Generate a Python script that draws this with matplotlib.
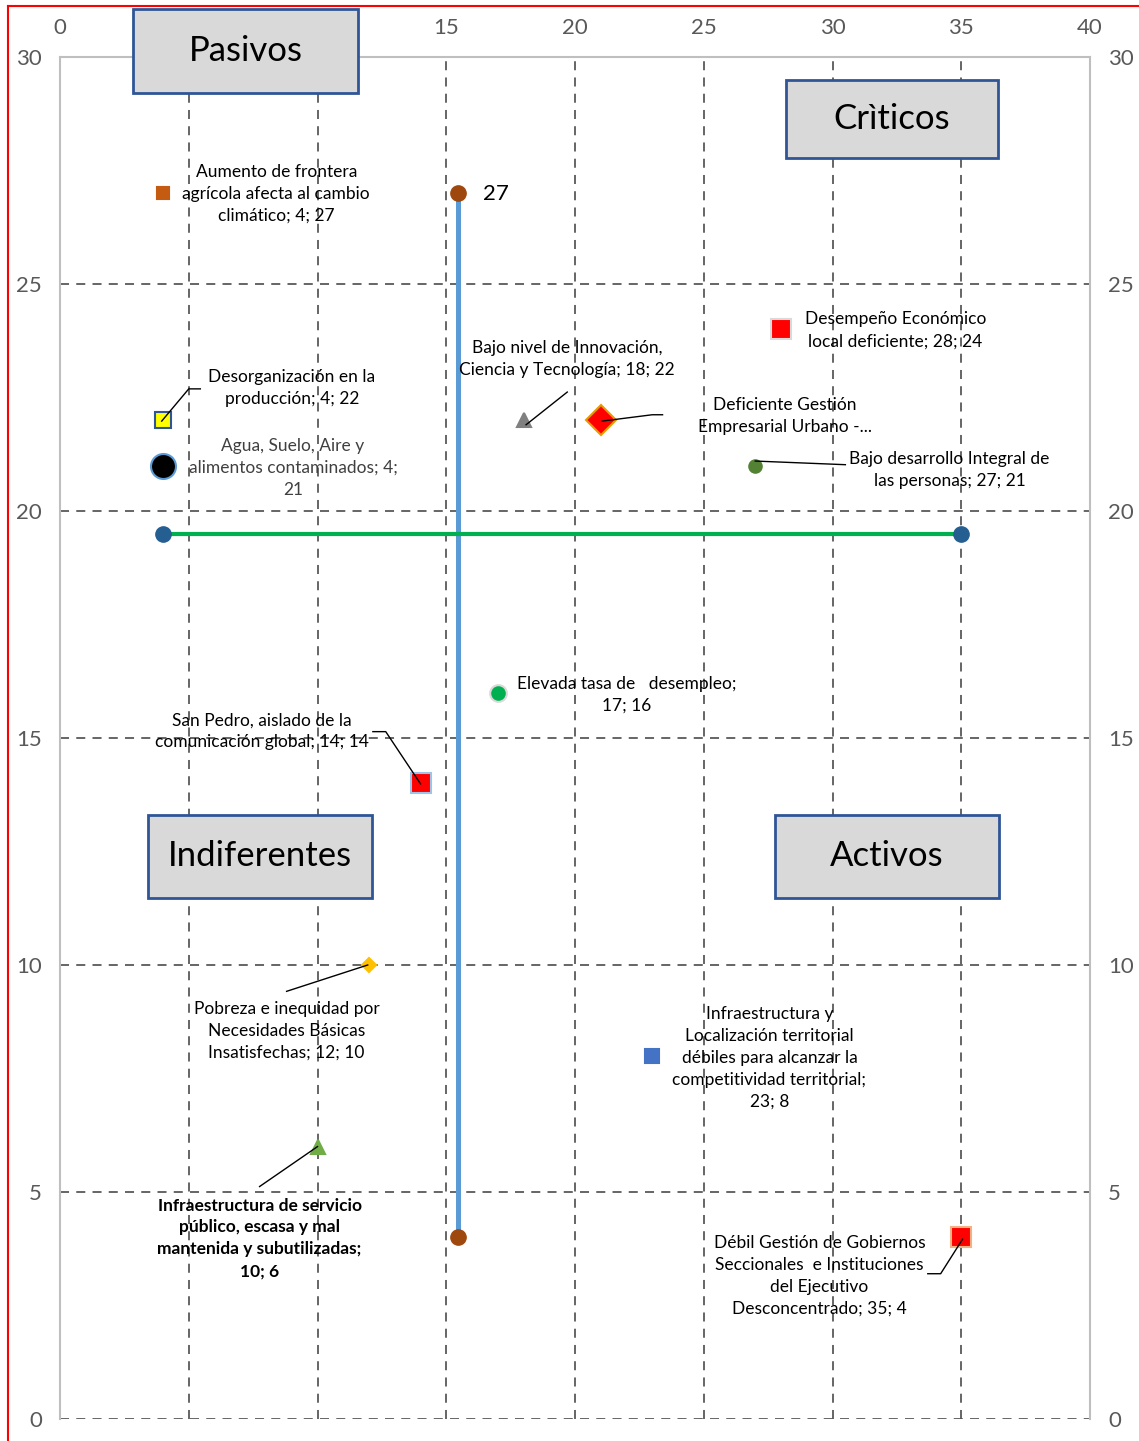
import matplotlib
matplotlib.use("Agg")
import matplotlib.pyplot as plt
from matplotlib.patches import Rectangle
from matplotlib.lines import Line2D


# factores: (nombre, influencia x, dependencia y)
names = [
    "Aumento de frontera\nagrícola afecta al cambio\nclimático; 4; 27",
    "Desorganización en la\nproducción; 4; 22",
    "Agua, Suelo, Aire y\nalimentos contaminados; 4;\n21",
    "Bajo nivel de Innovación,\nCiencia y Tecnología; 18; 22",
    "Deficiente Gestión\nEmpresarial Urbano -...",
    "Desempeño Económico\nlocal deficiente; 28; 24",
    "Bajo desarrollo Integral de\nlas personas; 27; 21",
    "Elevada tasa de   desempleo;\n17; 16",
    "San Pedro, aislado de la\ncomunicación global; 14; 14",
    "Pobreza e inequidad por\nNecesidades Básicas\nInsatisfechas; 12; 10",
    "Infraestructura y\nLocalización territorial\ndébiles para alcanzar la\ncompetitividad territorial;\n23; 8",
    "Infraestructura de servicio\npúblico, escasa y mal\nmantenida y subutilizadas;\n10; 6",
    "Débil Gestión de Gobiernos\nSeccionales  e Instituciones\ndel Ejecutivo\nDesconcentrado; 35; 4",
]
x_vals = [4, 4, 4, 18, 21, 28, 27, 17, 14, 12, 23, 10, 35]
y_vals = [27, 22, 21, 22, 22, 24, 21, 16, 14, 10, 8, 6, 4]

# estilo de cada marcador
markers = ["s", "s", "o", "^", "D", "s", "o", "o", "s", "D", "s", "^", "s"]
m_sizes = [9, 12, 18, 10, 15, 14, 9, 12, 14, 7, 10, 10, 14]
m_face = ["#C55A11", "#FFFF00", "#000000", "#808080", "#FF0000", "#FF0000",
          "#548235", "#00B050", "#FF0000", "#FFC000", "#4472C4", "#70AD47", "#FF0000"]
m_edge = ["#C55A11", "#2F5597", "#5B9BD5", "#808080", "#E69B00", "#D9D9D9",
          "#548235", "#D9D9D9", "#9DC3E6", "#FFC000", "#4472C4", "#70AD47", "#F4B183"]

# posicion de las etiquetas
lab_x = [8.4, 9.0, 9.05, 19.7, 28.15, 32.45, 34.55, 22.0, 7.85, 8.8, 27.55, 7.75, 29.5]
lab_y = [26.98, 22.7, 20.95, 23.35, 22.1, 23.98, 20.9, 15.95, 15.15, 8.55, 7.95, 3.98, 3.15]
lab_color = ["black", "black", "#404040", "black", "black", "black", "black",
             "black", "black", "black", "black", "black", "black"]
lab_weight = ["normal"] * 11 + ["bold", "normal"]

# lineas guia (x, y) de etiqueta a punto
leaders = {
    1: ([5.45, 5.0, 3.95], [22.69, 22.69, 21.98]),
    3: ([19.7, 18.1], [22.62, 21.9]),
    4: ([23.4, 23.0, 21.05], [22.12, 22.12, 21.98]),
    6: ([30.5, 27.0], [21.02, 21.1]),
    8: ([12.15, 12.65, 14.0], [15.14, 15.14, 13.99]),
    9: ([8.8, 11.95], [9.42, 10.0]),
    11: ([7.75, 10.0], [5.12, 6.0]),
    12: ([33.7, 34.2, 35.05], [3.2, 3.2, 3.96]),
}

# lineas de corte
v_x = 15.46
v_y = [4, 27]
h_y = 19.5
h_x = [4, 35]

LAB_FONT = ["Lato", "DejaVu Sans"]

fig = plt.figure(figsize=(11.39, 14.41), dpi=100)
ax = fig.add_axes([60 / 1139, 1 - 1419 / 1441, 1030 / 1139, 1362 / 1441])
ax.set_xlim(0, 40)
ax.set_ylim(0, 30)

for gx in range(5, 40, 5):
    ax.axvline(gx, color="#595959", lw=1.3, ls=(0, (5, 4)), zorder=1)
for gy in range(0, 30, 5):
    ax.axhline(gy, color="#595959", lw=1.3, ls=(0, (5, 4)), zorder=1)

for side in ["left", "right", "top"]:
    ax.spines[side].set_color("#BFBFBF")
    ax.spines[side].set_linewidth(1.5)
ax.spines["bottom"].set_visible(False)

ax.set_xticks(range(0, 41, 5))
ax.set_yticks(range(0, 31, 5))
ax.tick_params(axis="x", top=True, bottom=False, labeltop=True, labelbottom=False,
               length=0, pad=14, labelsize=16, labelcolor="#595959")
ax.tick_params(axis="y", left=True, right=True, labelleft=True, labelright=True,
               length=0, pad=13, labelsize=16, labelcolor="#595959")
for lbl in ax.get_xticklabels() + ax.get_yticklabels():
    lbl.set_family(LAB_FONT)

ax.plot([v_x, v_x], v_y, color="#5B9BD5", lw=3.6, zorder=3)
ax.plot([v_x, v_x], v_y, "o", color="#9E480E", ms=11, zorder=4)
ax.text(v_x + 0.95, v_y[1] - 0.02, "27", fontsize=16, va="center", ha="left",
        family=LAB_FONT, zorder=5)

ax.plot(h_x, [h_y, h_y], color="#00B050", lw=3, zorder=3)
ax.plot(h_x, [h_y, h_y], "o", color="#255E91", ms=11, zorder=4)

for i in range(len(names)):
    ax.plot(x_vals[i], y_vals[i], marker=markers[i], ms=m_sizes[i], mfc=m_face[i],
            mec=m_edge[i], mew=1.5, ls="none", zorder=5)
    ax.text(lab_x[i], lab_y[i], names[i], ha="center", va="center", fontsize=12.5,
            color=lab_color[i], fontweight=lab_weight[i], linespacing=1.45,
            family=LAB_FONT, zorder=6)

for k, (lx, ly) in leaders.items():
    ax.plot(lx, ly, color="black", lw=1, zorder=5)

# cuadros de los cuadrantes (en pixeles de la figura)
boxes = [
    ("Pasivos", 133, 9, 358, 93),
    ("Crìticos", 786, 80, 998, 158),
    ("Indiferentes", 148, 815, 372, 898),
    ("Activos", 775, 815, 999, 898),
]
W, H = 1139, 1441
for txt, x0, y0, x1, y1 in boxes:
    r = Rectangle((x0 / W, 1 - y1 / H), (x1 - x0) / W, (y1 - y0) / H,
                  transform=fig.transFigure, facecolor="#D9D9D9",
                  edgecolor="#2F5597", lw=2, zorder=10)
    fig.add_artist(r)
    fig.text((x0 + x1) / 2 / W, 1 - (y0 + y1) / 2 / H, txt, ha="center", va="center",
             fontsize=25, family=LAB_FONT, zorder=11)

# borde rojo
fig.add_artist(Line2D([8 / W, 1], [1 - 6 / H, 1 - 6 / H], color="red", lw=1.5,
                      transform=fig.transFigure))
fig.add_artist(Line2D([8 / W, 8 / W], [0, 1 - 6 / H], color="red", lw=1.5,
                      transform=fig.transFigure))

fig.savefig("out.png", dpi=100)
